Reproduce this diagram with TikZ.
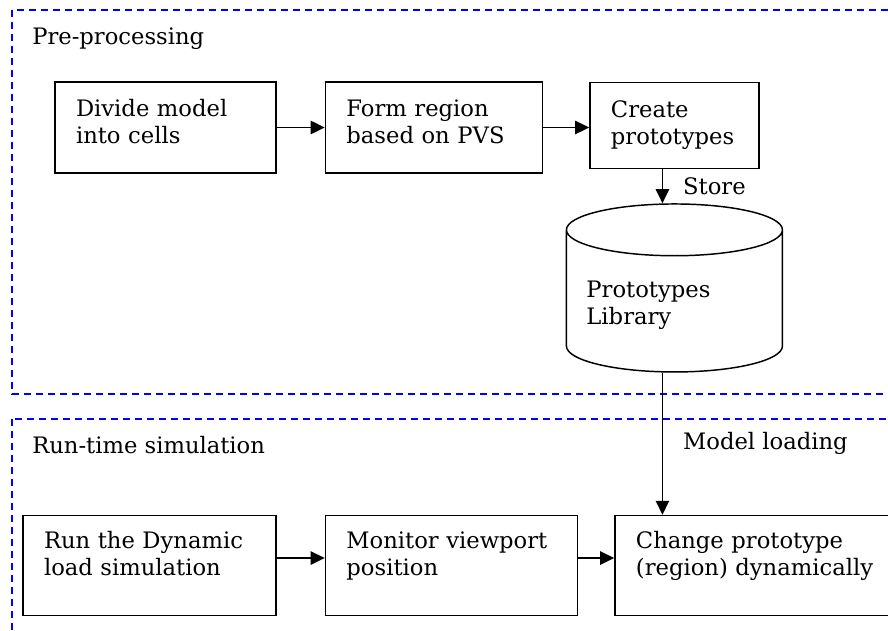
\documentclass[tikz,border=0pt]{standalone}
\usepackage{fontspec}
\setmainfont{DejaVu Serif}
\usetikzlibrary{shapes.geometric, arrows.meta, positioning}

\begin{document}
\begin{tikzpicture}[
  x=0.75pt, y=-0.75pt,
  font=\fontsize{17}{20.25}\selectfont,
  node distance=36pt,
  proc/.style={rectangle, draw, line width=1.1pt, align=left,
               inner xsep=15.75pt, inner ysep=0pt},
  rowa/.style={text height=26.25pt, text depth=42pt},
  rowb/.style={text height=24.75pt, text depth=50.25pt},
  store/.style={cylinder, shape border rotate=90, aspect=0.28, draw,
                line width=1.1pt, minimum width=162pt, minimum height=126pt,
                align=left, text width=132pt},
  zone/.style={draw=blue, dash pattern=on 5.25pt off 3.75pt, line width=1pt},
  arr/.style={-{Triangle[length=10.5pt,width=10pt]}, line width=1.1pt},
  lbl/.style={inner sep=0pt}
]
  \useasboundingbox (0,0) rectangle (888,631);
  \clip (0,0) rectangle (888,631);

  \draw[zone] (12,10) rectangle (900,394);
  \draw[zone] (12,419) rectangle (900,640);
  \node[lbl, anchor=base west] (pre) at (32,45) {Pre-processing};
  \node[lbl, anchor=base west] (run) at (32,453) {Run-time simulation};

  \node[proc, rowa, text width=134.25pt] (cells) at (165.5,127.5) {Divide model\\into cells};
  \node[proc, rowa, text width=131.25pt, right=of cells] (region) {Form region\\based on PVS};
  \node[proc, text width=95.25pt, text height=26.25pt, text depth=38.25pt,
        right=34.5pt of region, yshift=1.5pt] (create) {Create\\prototypes};
  \node[store, below=25.5pt of create] (lib) {Prototypes\\Library};

  \node[proc, rowb, text width=158.25pt] (dyn) at (149.5,565.5) {Run the Dynamic\\load simulation};
  \node[proc, rowb, text width=157.5pt, right=of dyn] (view) {Monitor viewport\\position};
  \node[proc, rowb, text width=186pt, right=27pt of view] (change) {Change prototype\\(region) dynamically};

  \draw[arr] (cells)  -- (region);
  \draw[arr] (region.east) -- (region.east -| create.west);
  \draw[arr] ([xshift=-9pt]create.south) -- node[lbl, right=15pt] {Store} ([xshift=-9pt]lib.north);
  \draw[arr] ([xshift=-9pt]lib.south) -- node[lbl, right=15pt] {Model loading}
             ([xshift=-9pt]lib.south |- change.north);
  \draw[arr] ([yshift=5.6pt]dyn.east)  -- ([yshift=5.6pt]dyn.east -| view.west);
  \draw[arr] ([yshift=5.6pt]view.east) -- ([yshift=5.6pt]view.east -| change.west);
\end{tikzpicture}
\end{document}
